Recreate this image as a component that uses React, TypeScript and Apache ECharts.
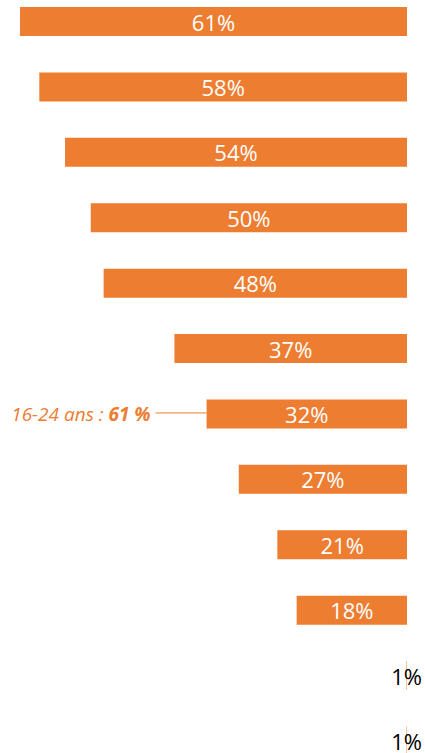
import React, { useEffect, useRef } from "react";
import * as echarts from "echarts";

const categories = ["C1", "C2", "C3", "C4", "C5", "C6", "C7", "C8", "C9", "C10", "C11", "C12"];
const values = [61, 58, 54, 50, 48, 37, 32, 27, 21, 18, 1, 1];
const annotationIndex = 6;
const annotationPrefix = "16-24 ans : ";
const annotationValue = "61 %";

const ORANGE = "#ED7D31";
const PALE = "#F6C3A0";

export default function App() {
  const ref = useRef<HTMLDivElement>(null);
  useEffect(() => {
    document.body.style.margin = "0";
    const chart = echarts.init(ref.current!, null, { renderer: "svg" });
    chart.setOption({
      animation: false,
      grid: { left: 20, right: 18, top: 21.5, bottom: 12, containLabel: false },
      xAxis: {
        type: "value",
        inverse: true,
        min: 0.85,
        max: 61,
        show: false,
      },
      yAxis: {
        type: "category",
        data: categories,
        inverse: true,
        boundaryGap: false,
        show: false,
      },
      series: [
        {
          type: "bar",
          barWidth: 29,
          data: values.map((v) => ({
            value: v,
            itemStyle: { color: v < 5 ? PALE : ORANGE },
            label: {
              color: v < 5 ? "#000000" : "#FFFFFF",
            },
          })),
          label: {
            show: true,
            position: "inside",
            formatter: (p: any) => `${p.value}%`,
            fontFamily: "Open Sans",
            fontSize: 22,
          },
        },
      ],
    });
    const end = chart.convertToPixel({ gridIndex: 0 }, [values[annotationIndex], annotationIndex]) as number[];
    const lineStart = end[0] - 51;
    chart.setOption({
      graphic: [
        {
          type: "line",
          shape: { x1: lineStart, y1: end[1] - 1, x2: end[0], y2: end[1] - 1 },
          style: { stroke: ORANGE, lineWidth: 1 },
        },
        {
          type: "text",
          x: lineStart - 5,
          y: end[1],
          style: {
            text: `{a|${annotationPrefix}}{b|${annotationValue}}`,
            align: "right",
            verticalAlign: "middle",
            rich: {
              a: { fontFamily: "Open Sans", fontStyle: "italic", fontSize: 19, fill: ORANGE },
              b: { fontFamily: "Open Sans", fontStyle: "italic", fontWeight: "bold", fontSize: 19, fill: ORANGE },
            },
          },
        },
      ],
    });
    return () => chart.dispose();
  }, []);
  return <div ref={ref} style={{ width: 425, height: 753 }} />;
}
